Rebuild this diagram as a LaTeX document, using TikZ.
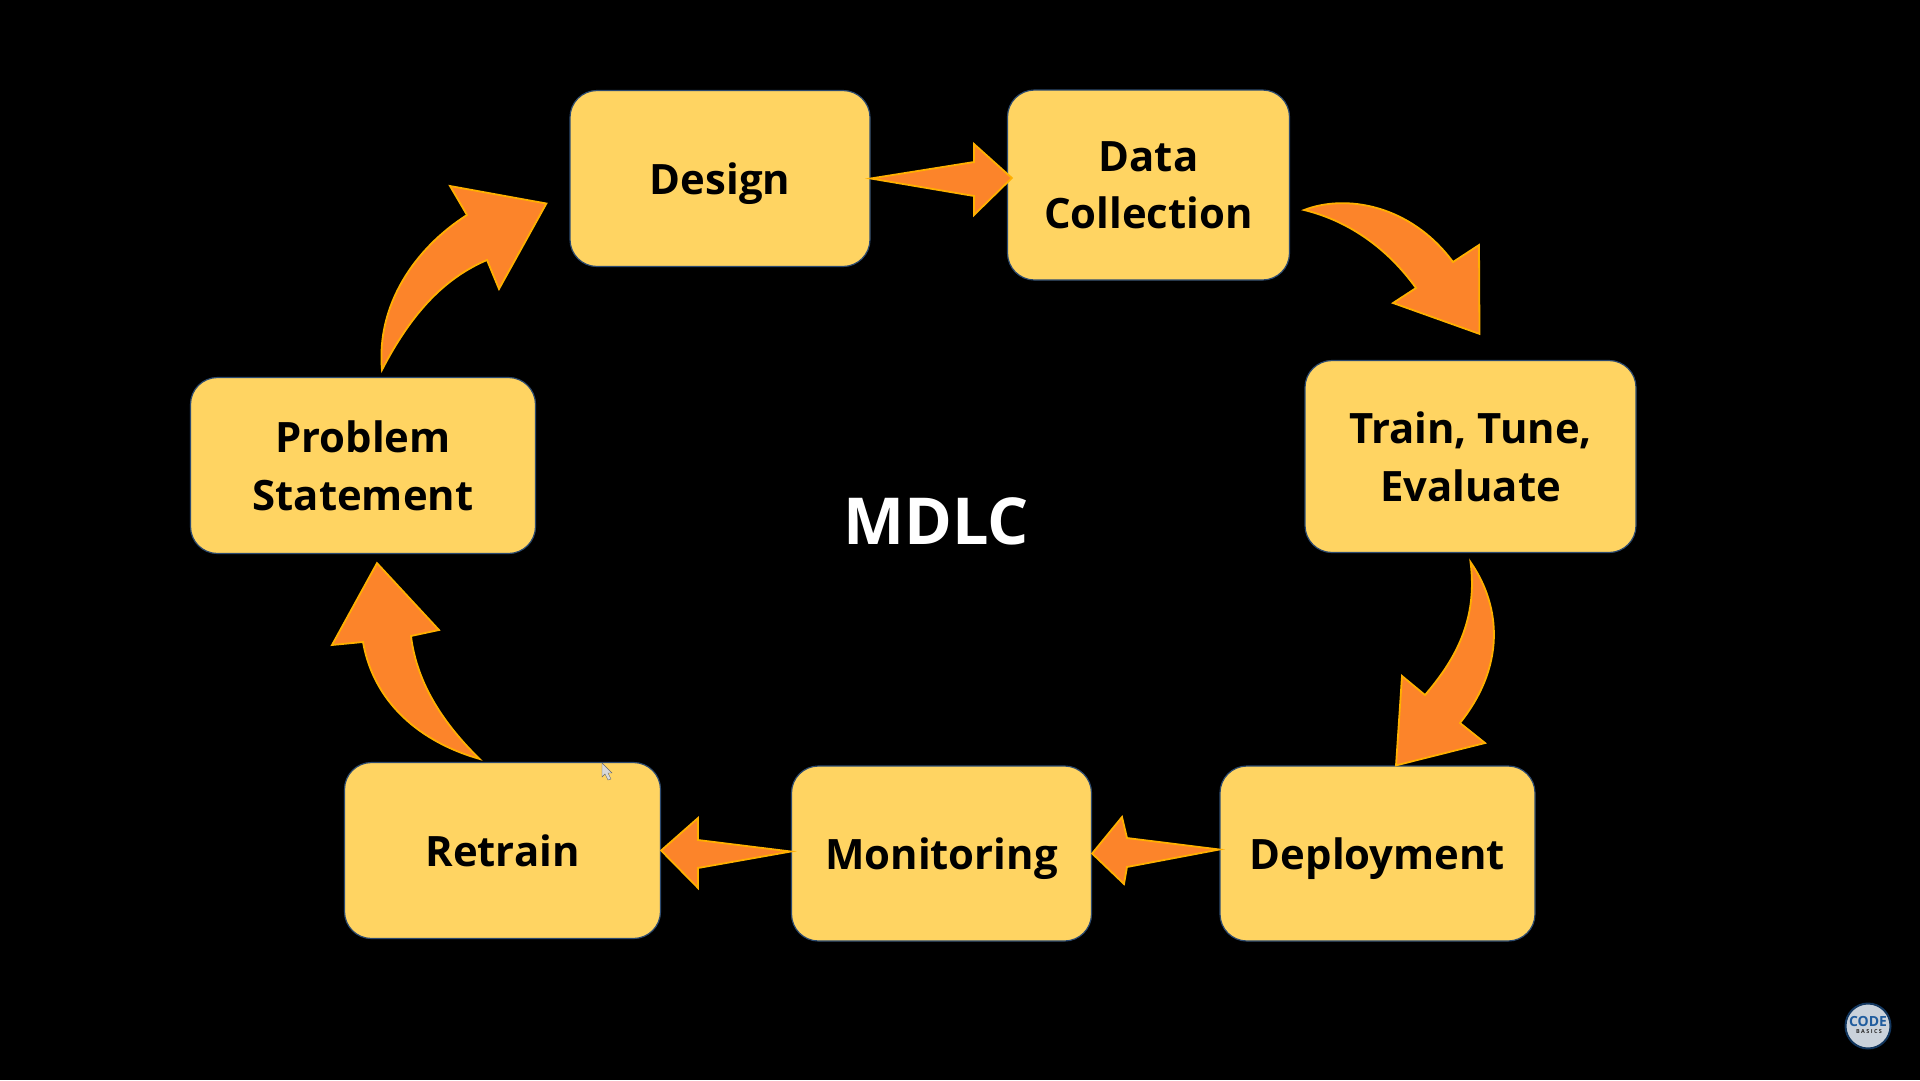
\documentclass[tikz,border=0pt]{standalone}
\usepackage{fontspec}
\setmainfont{Open Sans}
\usetikzlibrary{calc}
\definecolor{boxfill}{HTML}{FFD462}
\definecolor{boxline}{HTML}{2C4A70}
\definecolor{arrowfill}{HTML}{FC842A}
\definecolor{arrowline}{HTML}{FFB000}
\definecolor{logoblue}{HTML}{1F5C9E}
\tikzset{
  stagebox/.style={draw=boxline,line width=1.2pt,fill=boxfill,rounded corners=27bp,
    text=black,align=center,inner sep=0pt,
    font=\fontsize{42}{58}\selectfont\bfseries},
  blockarrow/.style={draw=arrowline,line width=1.8pt,fill=arrowfill,line join=miter,miter limit=10},
}
\begin{document}
\begin{tikzpicture}[x=1bp,y=-1bp]
\useasboundingbox (0,0) rectangle (1920,1080);
\fill[black] (0,0) rectangle (1920,1080);

\node[stagebox,minimum width=300bp,minimum height=176bp,text depth=0pt] (design) at (720,178.5) {Design};
\node[stagebox,minimum width=282bp,minimum height=190bp,text depth=-4bp] (data) at (1148.5,185) {Data\\Collection};
\node[stagebox,minimum width=331bp,minimum height=192bp,text depth=-4bp] (train) at (1470.5,456.5) {Train, Tune,\\Evaluate};
\node[stagebox,minimum width=315bp,minimum height=175bp,text depth=0pt] (deploy) at (1377.5,853.5) {Deployment};
\node[stagebox,minimum width=300bp,minimum height=175bp,text depth=0pt] (monitor) at (941.5,853.5) {Monitoring};
\node[stagebox,minimum width=316bp,minimum height=176bp,text depth=-2bp] (retrain) at (502.5,850.5) {Retrain};
\node[stagebox,minimum width=345bp,minimum height=176bp,text depth=-4bp] (problem) at (363,465.5) {Problem\\Statement};
\node[text=white,inner sep=0pt,font=\fontsize{65}{70}\selectfont\bfseries] (title) at (936,521) {MDLC};

% arrow ends, tied to the boxes they join
\coordinate (a1s) at (design.east);
\coordinate (a1e) at ([shift={(5,-7)}]data.west);
\coordinate (a2s) at ([shift={(14,25)}]data.east);
\coordinate (a2e) at ([shift={(9,-26)}]train.north);
\coordinate (a3s) at ([shift={(0,9)}]train.south);
\coordinate (a3e) at ([shift={(18.5,0)}]deploy.north);
\coordinate (a4s) at ([shift={(0,-4)}]deploy.west);
\coordinate (a4e) at (monitor.east);
\coordinate (a5s) at ([shift={(0,-2)}]monitor.west);
\coordinate (a5e) at (retrain.east);
\coordinate (a6s) at ([shift={(-23,-3)}]retrain.north);
\coordinate (a6e) at ([shift={(14,9)}]problem.south);
\coordinate (a7s) at ([shift={(19,-7)}]problem.north);
\coordinate (a7e) at ([shift={(-23,25)}]design.west);

\draw[blockarrow] (a1s) -- (974,162) -- (974,144) -- (a1e) -- (974,215) -- (974,196) -- cycle;
\draw[blockarrow] (a2s) .. controls (1345,194) and (1410,204) .. (1453,262) -- (1479,245) -- (a2e) -- (1393,303) -- (1416,288) .. controls (1385,245) and (1345,220) .. cycle;
\draw[blockarrow] (a3s) .. controls (1497,600) and (1510,660) .. (1460,723) -- (1485,743) -- (a3e) -- (1402,676) -- (1425,695) .. controls (1455,660) and (1478,620) .. cycle;
\draw[blockarrow] (a4s) -- (1127,838) -- (1122,817) -- (a4e) -- (1124,884) -- (1127,867) -- cycle;
\draw[blockarrow] (a5s) -- (698,840) -- (698,818) -- (a5e) -- (698,888) -- (698,868) -- cycle;
\draw[blockarrow] (a6s) .. controls (430,745) and (375,710) .. (363,642) -- (332,645) -- (a6e) -- (439,630) -- (411,636) .. controls (417,685) and (445,725) .. cycle;
\draw[blockarrow] (a7s) .. controls (376,305) and (415,248) .. (467,215) -- (450,186) -- (a7e) -- (499,289) -- (487,260) .. controls (445,278) and (412,312) .. cycle;

% logo
\node[circle,draw=logoblue!60!black,line width=2pt,fill=white!75!boxline,minimum size=45bp,inner sep=0pt] (logo) at (1868,1026) {};
\node[inner sep=0pt,text=logoblue,font=\fontsize{14}{14}\selectfont\bfseries] (logotop) at (1868,1021) {CODE};
\node[inner sep=0pt,text=black!85,font=\fontsize{5.5}{6}\selectfont\bfseries] (logobot) at (1869,1032) {B A S I C S};

% mouse pointer
\filldraw[draw=black!60,fill=white!85!black,line width=0.4pt] (602,763) -- (602,777) -- (605,774) -- (608,780) -- (611,779) -- (608,773) -- (612,773) -- cycle;
\end{tikzpicture}
\end{document}
